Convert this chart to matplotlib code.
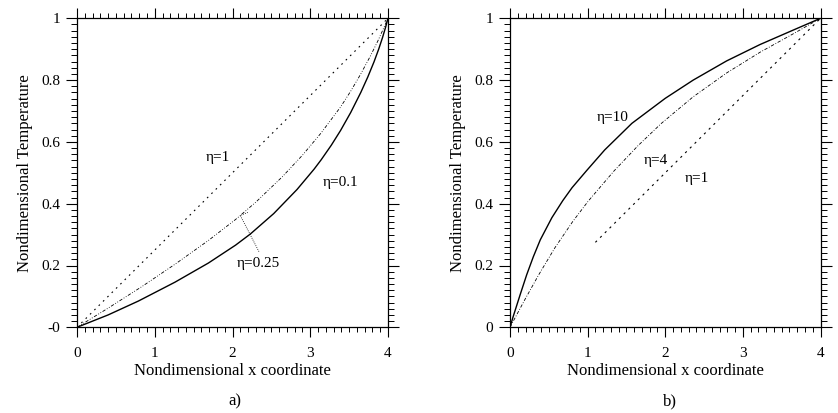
import matplotlib.pyplot as plt
from matplotlib.ticker import MultipleLocator

plt.rcParams['font.family'] = ['Liberation Serif', 'DejaVu Serif']

# panel a) values
xa_01 = [0, 0.4, 0.79, 1.26, 1.69, 2.04, 2.23, 2.53, 2.83, 3.05, 3.14, 3.27, 3.39, 3.52, 3.65, 3.74, 3.82, 3.88, 3.93, 3.97, 4.0]
ya_01 = [0, 0.040, 0.085, 0.146, 0.208, 0.266, 0.302, 0.368, 0.446, 0.512, 0.542, 0.589, 0.637, 0.695, 0.76, 0.81, 0.859, 0.9, 0.938, 0.972, 1.0]
xa_025 = [0, 0.4, 0.83, 1.26, 1.69, 2.04, 2.3, 2.64, 2.9, 3.14, 3.39, 3.52, 3.65, 3.78, 3.87, 3.94, 4.0]
ya_025 = [0, 0.062, 0.131, 0.204, 0.281, 0.349, 0.405, 0.487, 0.557, 0.629, 0.713, 0.764, 0.82, 0.881, 0.927, 0.966, 1.0]
xa_1 = [0, 4]
ya_1 = [0, 1]

# panel b)
xb_10 = [0, 0.04, 0.13, 0.215, 0.30, 0.39, 0.54, 0.68, 0.80, 0.99, 1.22, 1.57, 2.0, 2.36, 2.79, 3.22, 3.65, 4.0]
yb_10 = [0, 0.034, 0.105, 0.17, 0.228, 0.283, 0.355, 0.41, 0.452, 0.508, 0.574, 0.66, 0.741, 0.80, 0.862, 0.915, 0.962, 1.0]
xb_4 = [0, 0.19, 0.37, 0.58, 0.81, 1.01, 1.34, 1.65, 1.95, 2.36, 2.79, 3.22, 3.65, 4.0]
yb_4 = [0, 0.089, 0.17, 0.258, 0.343, 0.409, 0.506, 0.588, 0.66, 0.746, 0.823, 0.89, 0.95, 1.0]
xb_1 = [1.1, 4]
yb_1 = [0.275, 1]

xticks = [0, 1, 2, 3, 4]
yticks = [0, 0.2, 0.4, 0.6, 0.8, 1]
ylabels_a = ['-0', '0.2', '0.4', '0.6', '0.8', '1']
ylabels_b = ['0', '0.2', '0.4', '0.6', '0.8', '1']

fig = plt.figure(figsize=(8.38, 4.13), dpi=100)
axa = fig.add_axes([77 / 838, 85.7 / 413, 311 / 838, 309 / 413])
axb = fig.add_axes([510 / 838, 85.7 / 413, 310.5 / 838, 309 / 413])


def style(ax, ylabels):
    ax.set_xlim(0, 4)
    ax.set_ylim(0, 1)
    ax.set_xticks(xticks)
    ax.set_xticklabels([str(t) for t in xticks])
    ax.set_yticks(yticks)
    ax.set_yticklabels(ylabels)
    ax.xaxis.set_minor_locator(MultipleLocator(0.1))
    ax.yaxis.set_minor_locator(MultipleLocator(0.02))
    ax.tick_params(axis='x', which='major', direction='out', length=7, width=0.8,
                   top=True, bottom=True, labelsize=11, pad=7)
    ax.tick_params(axis='x', which='minor', direction='out', length=3.5, width=0.7,
                   top=True, bottom=True)
    ax.tick_params(axis='y', which='major', direction='out', length=8, width=0.8,
                   left=True, right=True, labelsize=11, pad=4)
    ax.tick_params(axis='y', which='minor', direction='out', length=4, width=0.7,
                   left=True, right=True)
    for s in ax.spines.values():
        s.set_linewidth(0.9)
    ax.set_xlabel('Nondimensional x coordinate', fontsize=12, labelpad=2)
    ax.set_ylabel('Nondimensional Temperature', fontsize=12, labelpad=6)


# a)
axa.plot(xa_1, ya_1, color='black', lw=0.8, ls=(0, (1.5, 4)))
axa.plot(xa_025, ya_025, color='black', lw=0.6, ls=(0, (4, 2, 1, 2, 1, 2)))
axa.plot(xa_01, ya_01, color='black', lw=1.0)
axa.plot([2.34, 2.10, 2.2], [0.245, 0.362, 0.372], color='black', lw=0.6, ls=(0, (1, 1.5)))
axa.text(1.65, 0.55, 'η=1', fontsize=11, va='center')
axa.text(3.16, 0.469, 'η=0.1', fontsize=11, va='center')
axa.text(2.06, 0.205, 'η=0.25', fontsize=11, va='center')
style(axa, ylabels_a)

# b)
axb.plot(xb_1, yb_1, color='black', lw=0.8, ls=(0, (2, 4)))
axb.plot(xb_4, yb_4, color='black', lw=0.6, ls=(0, (4, 2, 1, 2)))
axb.plot(xb_10, yb_10, color='black', lw=1.0)
axb.text(1.12, 0.68, 'η=10', fontsize=11, va='center')
axb.text(1.72, 0.541, 'η=4', fontsize=11, va='center')
axb.text(2.25, 0.48, 'η=1', fontsize=11, va='center')
style(axb, ylabels_b)

fig.text(235 / 838, 1 - 401.7 / 413, 'a)', fontsize=12, ha='center', va='center')
fig.text(670 / 838, 1 - 401.7 / 413, 'b)', fontsize=12, ha='center', va='center')

fig.savefig('out.png', dpi=100)
